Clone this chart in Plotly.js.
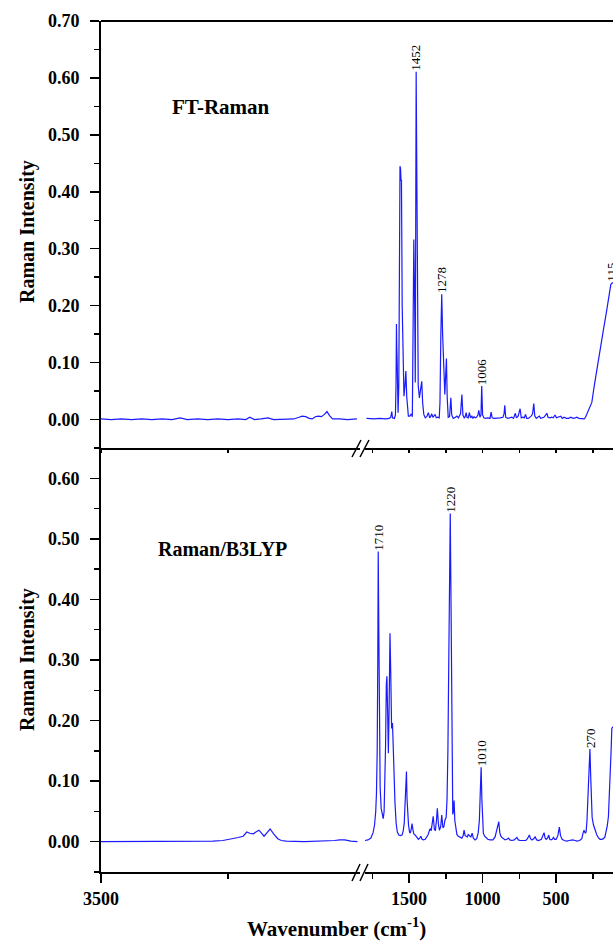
<!DOCTYPE html>
<html>
<head>
<meta charset="utf-8">
<script src="https://cdn.plot.ly/plotly-3.0.1.min.js"></script>
<style>
html,body{margin:0;padding:0;background:#fff;overflow:hidden;}
#chart{width:613px;height:941px;}
</style>
</head>
<body>
<div id="chart"></div>
<script>
// ---------- DATA ----------
// FT-Raman (top panel) - left segment (3500-3000 cm-1)
const ftLeftWn  = [3500,3480,3460,3440,3420,3400,3380,3360,3344,3330,3310,3290,3270,3250,3230,3215,3207,3198,3185,3171,3160,3140,3120,3110,3104,3097,3090,3084,3078,3072,3066,3060,3055,3050,3044,3030,3015,2996];
const ftLeftInt = [0.001,0.0,0.001,0.0,0.001,0.0,0.001,0.0,0.003,0.0,0.001,0.0,0.001,0.0,0.001,0.0,0.004,0.0,0.001,0.003,0.0,0.001,0.001,0.004,0.006,0.005,0.002,0.001,0.005,0.006,0.005,0.009,0.014,0.007,0.001,0.001,0.0,0.001];
// FT-Raman - right segment (1800-112 cm-1)
const ftRightWn  = [1790,1740,1700,1660,1635,1625,1618,1613,1600,1593,1589,1586,1584,1581,1578,1575,1570,1566,1562,1558,1555,1552,1547,1541,1535,1528,1522,1516,1510,1505,1495,1485,1478,1474,1468,1462,1458,1452,1446,1438,1430,1422,1414,1408,1400,1390,1380,1369,1360,1352,1346,1338,1330,1323,1315,1305,1295,1290,1284,1278,1272,1262,1257,1251,1246,1241,1234,1225,1216,1210,1200,1185,1175,1165,1150,1141,1134,1125,1118,1112,1106,1098,1090,1082,1073,1066,1058,1050,1042,1032,1026,1018,1011,1006,1000,992,980,965,950,942,935,920,900,880,862,854,849,843,830,815,801,790,777,770,758,745,737,726,717,708,700,690,680,670,660,652,645,635,625,614,605,595,583,563,555,541,530,520,507,498,485,468,458,446,430,415,400,385,370,359,345,330,309,300,290,280,265,257,240,216,198,178,155,140,128,118,112];
const ftRightInt = [0.002,0.001,0.002,0.001,0.002,0.004,0.014,0.003,0.002,0.008,0.06,0.168,0.13,0.10,0.03,0.012,0.06,0.25,0.445,0.44,0.42,0.42,0.2,0.08,0.041,0.06,0.085,0.04,0.01,0.006,0.006,0.01,0.005,0.1,0.316,0.2,0.065,0.611,0.3,0.06,0.038,0.05,0.067,0.03,0.009,0.003,0.005,0.012,0.003,0.006,0.010,0.004,0.006,0.009,0.003,0.004,0.003,0.03,0.15,0.22,0.15,0.06,0.044,0.08,0.107,0.04,0.004,0.005,0.038,0.008,0.002,0.004,0.006,0.003,0.01,0.044,0.008,0.003,0.005,0.012,0.004,0.003,0.012,0.003,0.006,0.002,0.005,0.003,0.004,0.008,0.016,0.004,0.008,0.059,0.008,0.003,0.002,0.003,0.002,0.013,0.003,0.002,0.002,0.003,0.004,0.01,0.025,0.004,0.002,0.003,0.004,0.002,0.011,0.003,0.006,0.019,0.003,0.004,0.003,0.009,0.002,0.002,0.004,0.006,0.01,0.028,0.006,0.002,0.004,0.006,0.002,0.003,0.004,0.011,0.004,0.003,0.004,0.003,0.008,0.003,0.004,0.006,0.002,0.004,0.002,0.002,0.004,0.002,0.003,0.004,0.002,0.002,0.001,0.004,0.01,0.015,0.022,0.03,0.06,0.10,0.13,0.158,0.193,0.215,0.237,0.240,0.240];

// Raman/B3LYP (bottom panel) - left segment
const calcLeftWn  = [3500,3450,3400,3350,3300,3280,3260,3245,3230,3220,3213,3207,3200,3195,3189,3184,3179,3173,3167,3160,3152,3145,3135,3100,3060,3040,3030,3020,3008,2995];
const calcLeftInt = [0,0,0,0,0,0.001,0.002,0.004,0.007,0.009,0.016,0.014,0.013,0.016,0.019,0.014,0.009,0.015,0.021,0.013,0.005,0.002,0.001,0,0.001,0.002,0.003,0.003,0.001,0];
// Raman/B3LYP - right segment
const calcRightWn  = [1800,1780,1760,1745,1735,1727,1722,1717,1713,1710,1706,1702,1697,1690,1682,1676,1670,1665,1660,1655,1651,1645,1641,1636,1630,1625,1619,1613,1608,1602,1596,1588,1580,1570,1558,1548,1540,1533,1527,1522,1518,1514,1509,1504,1497,1492,1486,1480,1474,1468,1458,1448,1437,1428,1420,1412,1403,1390,1380,1370,1360,1356,1350,1344,1336,1328,1321,1314,1308,1301,1294,1285,1278,1270,1263,1256,1248,1242,1236,1230,1225,1220,1215,1210,1206,1203,1199,1194,1189,1183,1175,1165,1152,1141,1132,1126,1119,1112,1104,1098,1092,1080,1071,1063,1051,1040,1030,1022,1016,1010,1005,1000,995,986,976,965,950,930,915,905,890,883,876,868,858,847,835,824,815,801,785,767,757,745,725,706,695,682,674,665,652,643,632,620,600,588,582,575,568,558,550,543,536,526,518,510,500,488,478,470,459,445,427,410,389,370,359,340,325,316,310,302,296,290,284,278,270,265,260,255,246,235,223,210,201,190,178,168,160,152,144,138,133,126,121,112];
const calcRightInt = [0.002,0.003,0.006,0.015,0.028,0.05,0.08,0.15,0.3,0.479,0.35,0.18,0.09,0.055,0.042,0.038,0.05,0.09,0.16,0.26,0.273,0.2,0.146,0.22,0.344,0.28,0.187,0.196,0.15,0.1,0.064,0.03,0.016,0.011,0.01,0.011,0.018,0.031,0.06,0.1,0.116,0.07,0.04,0.028,0.016,0.014,0.02,0.030,0.02,0.013,0.011,0.007,0.004,0.006,0.009,0.004,0.003,0.004,0.008,0.012,0.02,0.021,0.018,0.028,0.042,0.02,0.019,0.035,0.055,0.03,0.019,0.025,0.044,0.023,0.025,0.036,0.04,0.07,0.15,0.3,0.45,0.542,0.4,0.2,0.08,0.045,0.05,0.068,0.035,0.02,0.012,0.009,0.008,0.006,0.01,0.019,0.01,0.009,0.008,0.012,0.010,0.008,0.014,0.006,0.003,0.005,0.015,0.035,0.08,0.123,0.07,0.03,0.014,0.009,0.007,0.004,0.003,0.003,0.008,0.02,0.033,0.015,0.009,0.007,0.005,0.003,0.004,0.006,0.003,0.002,0.003,0.007,0.003,0.002,0.002,0.002,0.005,0.011,0.005,0.003,0.005,0.008,0.003,0.002,0.004,0.01,0.015,0.006,0.004,0.006,0.011,0.004,0.003,0.004,0.007,0.004,0.004,0.01,0.024,0.01,0.004,0.002,0.001,0.002,0.003,0.002,0.001,0.002,0.005,0.015,0.019,0.014,0.016,0.035,0.07,0.12,0.153,0.11,0.06,0.04,0.028,0.018,0.011,0.006,0.004,0.004,0.005,0.008,0.016,0.026,0.042,0.07,0.107,0.15,0.187,0.19];

// Peak labels
const ftPeakLabels = ['1452','1278','1006','115'];
const ftPeakWn     = [1452,1278,1006,125];
const ftPeakInt    = [0.611,0.22,0.059,0.240];
const calcPeakLabels = ['1710','1220','1010','270'];
const calcPeakWn     = [1710,1220,1010,270];
const calcPeakInt    = [0.479,0.542,0.123,0.153];

const yTicksTop = [0,0.1,0.2,0.3,0.4,0.5,0.6,0.7];
const yTicksBot = [0,0.1,0.2,0.3,0.4,0.5,0.6];
const yMinorTop = [-0.05,0.05,0.15,0.25,0.35,0.45,0.55,0.65];
const yMinorBot = [-0.05,0.05,0.15,0.25,0.35,0.45,0.55,0.65];
const xTicksLeft = [3500], xMinorLeft = [3250];
const xTicksRight = [1500,1000,500], xMinorRight = [1750,1250,750,250];

// ---------- GEOMETRY ----------
const W = 613, H = 941;
const M = {l:101, r:0, t:21, b:69};
const PW = W - M.l - M.r, PH = H - M.t - M.b;
const px = v => (v - M.l) / PW;          // pixel x -> paper
const py = v => (H - M.b - v) / PH;      // pixel y -> paper
const leftDom = [0, px(360)], rightDom = [px(365), 1];
const splitY = py(448);

const LINE = {color:'#1a1aff', width:1.2};
const FONT = '"Liberation Serif","Times New Roman",serif';
const tickFont = {family:FONT, size:18, color:'#000', weight:'bold'};

function xAx(dom, range, tv, mv, anchor, labels){
  return {
    domain: dom, range: range, anchor: anchor,
    showline:true, linecolor:'#000', linewidth:2,
    showgrid:false, zeroline:false,
    tickmode:'array', tickvals: tv, ticktext: tv.map(String),
    ticks:'outside', ticklen: labels ? 9 : 3, tickwidth:1.5, tickcolor:'#000',
    showticklabels: labels, tickfont: tickFont,
    minor:{tickmode:'array', tickvals: mv, ticks:'outside', ticklen: labels ? 5 : 3, tickwidth:1.5, tickcolor:'#000'}
  };
}
function yAx(dom, range, tv, mv, anchor){
  return {
    domain: dom, range: range, anchor: anchor,
    showline:true, linecolor:'#000', linewidth:2,
    showgrid:false, zeroline:false,
    tickmode:'array', tickvals: tv, ticktext: tv.map(v => v.toFixed(2)),
    ticks:'outside', ticklen:9, tickwidth:1.5, tickcolor:'#000',
    tickfont: tickFont, ticklabelstandoff: 7,
    minor:{tickmode:'array', tickvals: mv, ticks:'outside', ticklen:5, tickwidth:1.5, tickcolor:'#000'}
  };
}

const traces = [
  {x: ftLeftWn,  y: ftLeftInt,  xaxis:'x3', yaxis:'y2', mode:'lines', line: LINE, cliponaxis:true},
  {x: ftRightWn, y: ftRightInt, xaxis:'x4', yaxis:'y2', mode:'lines', line: LINE, cliponaxis:true},
  {x: calcLeftWn,  y: calcLeftInt,  xaxis:'x',  yaxis:'y', mode:'lines', line: LINE, cliponaxis:true},
  {x: calcRightWn, y: calcRightInt, xaxis:'x2', yaxis:'y', mode:'lines', line: LINE, cliponaxis:true}
];

const annotations = [];
ftPeakLabels.forEach((t,i) => annotations.push({
  xref:'x4', yref:'y2', x: ftPeakWn[i], y: ftPeakInt[i], text: t, textangle:-90,
  showarrow:false, xanchor:'center', yanchor:'bottom', borderpad:0,
  font:{family:FONT, size:13, color:'#000'}
}));
calcPeakLabels.forEach((t,i) => annotations.push({
  xref:'x2', yref:'y', x: calcPeakWn[i], y: calcPeakInt[i], text: t, textangle:-90,
  showarrow:false, xanchor:'center', yanchor:'bottom', borderpad:0,
  font:{family:FONT, size:13, color:'#000'}
}));
const boldFont = s => ({family:FONT, size:s, color:'#000', weight:'bold'});
annotations.push(
  {xref:'paper', yref:'paper', x: px(221), y: py(107), text:'FT-Raman', showarrow:false, xanchor:'center', yanchor:'middle', font: boldFont(21)},
  {xref:'paper', yref:'paper', x: px(222), y: py(549), text:'Raman/B3LYP', showarrow:false, xanchor:'center', yanchor:'middle', font: boldFont(20)},
  {xref:'paper', yref:'paper', x: px(27), y: py(232), text:'Raman Intensity', textangle:-90, showarrow:false, xanchor:'center', yanchor:'middle', font: boldFont(20)},
  {xref:'paper', yref:'paper', x: px(27), y: py(660), text:'Raman Intensity', textangle:-90, showarrow:false, xanchor:'center', yanchor:'middle', font: boldFont(20)},
  {xref:'paper', yref:'paper', x: px(336), y: py(927), text:'Wavenumber (cm<sup>-1</sup>)', showarrow:false, xanchor:'center', yanchor:'middle', font: boldFont(21)}
);

const blk = {color:'#000', width:1.5};
const shapes = [
  {type:'line', xref:'paper', yref:'paper', x0:0, x1:1, y0:1, y1:1, line:{color:'#000', width:2}},
  // axis break marks (bottom axis)
  {type:'line', xref:'paper', yref:'paper', x0:px(352), y0:py(881), x1:px(360), y1:py(864), line: blk},
  {type:'line', xref:'paper', yref:'paper', x0:px(360), y0:py(881), x1:px(368), y1:py(864), line: blk},
  // axis break marks (middle axis)
  {type:'line', xref:'paper', yref:'paper', x0:px(352), y0:py(457), x1:px(361), y1:py(440), line: blk},
  {type:'line', xref:'paper', yref:'paper', x0:px(360), y0:py(457), x1:px(369), y1:py(440), line: blk}
];

const layout = {
  width: W, height: H, margin: M,
  paper_bgcolor:'#fff', plot_bgcolor:'#fff',
  showlegend:false, hovermode:false,
  font:{family:FONT, color:'#000'},
  xaxis:  xAx(leftDom,  [3500, 2990], xTicksLeft,  xMinorLeft,  'y',  true),
  xaxis2: xAx(rightDom, [1800, 113],  xTicksRight, xMinorRight, 'y',  true),
  xaxis3: xAx(leftDom,  [3500, 2990], xTicksLeft,  xMinorLeft,  'y2', false),
  xaxis4: xAx(rightDom, [1800, 113],  xTicksRight, xMinorRight, 'y2', false),
  yaxis:  yAx([0, splitY], [-0.05, 0.65], yTicksBot, yMinorBot, 'x'),
  yaxis2: yAx([splitY, 1], [-0.05, 0.70], yTicksTop, yMinorTop, 'x3'),
  annotations: annotations,
  shapes: shapes
};

Plotly.newPlot('chart', traces, layout, {staticPlot:true, displayModeBar:false});
</script>
</body>
</html>
